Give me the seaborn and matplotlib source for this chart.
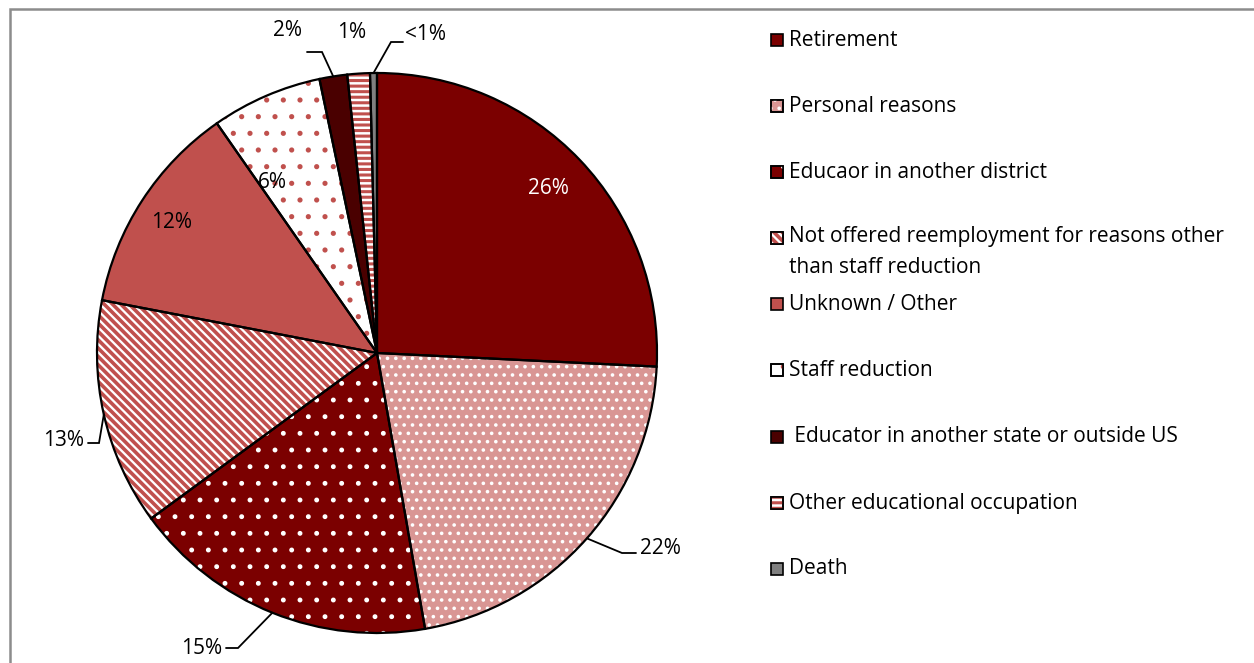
import matplotlib
matplotlib.use("Agg")
import matplotlib.pyplot as plt
import seaborn as sns
import numpy as np
from matplotlib.patches import Rectangle

# ---------------- data ----------------
categories = [
    "Retirement",
    "Personal reasons",
    "Educaor in another district",
    "Not offered reemployment for reasons other\nthan staff reduction",
    "Unknown / Other",
    "Staff reduction",
    " Educator in another state or outside US",
    "Other educational occupation",
    "Death",
]
shares = [25.8, 21.5, 17.7, 13.1, 12.3, 6.4, 1.6, 1.3, 0.4]
pct_labels = ["26%", "22%", "15%", "13%", "12%", "6%", "2%", "1%", "<1%"]

# ---------------- style ----------------
face_colors = ["#7B0000", "#D99694", "#7B0000", "#FFFFFF", "#C0504D",
               "#FFFFFF", "#4A0000", "#FFFFFF", "#808080"]
hatch_colors = [None, "#FFFFFF", "#FFFFFF", "#C0504D", None,
                "#C0504D", None, "#C0504D", None]
hatches = [None, "..", ".", "\\\\\\\\", None, ".", None, "---", None]
hatch_lw = [1, 1.4, 1.1, 2.6, 1, 1.3, 1, 2.2, 1]

sns.set_theme(style="white")
plt.rcParams["font.family"] = ["Open Sans", "DejaVu Sans"]
FS = 15

W, H = 1254, 663
fig = plt.figure(figsize=(W / 100, H / 100), dpi=100)
ax = fig.add_axes([0, 0, 1, 1])

def P(x, y):
    """pixel (top-left origin) -> axes data coords"""
    return x, H - y

cx, cy = P(377, 353)
R = 280

wedges, _ = ax.pie(shares, startangle=90, counterclock=False,
                   center=(cx, cy), radius=R, colors=face_colors,
                   wedgeprops=dict(linewidth=0))
for w, hc, h, lw in zip(wedges, hatch_colors, hatches, hatch_lw):
    if h:
        w.set_hatch(h)
        w.set_edgecolor(hc)
        w.set_linewidth(0)
        if hasattr(w, "set_hatch_linewidth"):
            w.set_hatch_linewidth(lw)
# outlines
outline, _ = ax.pie(shares, startangle=90, counterclock=False,
                    center=(cx, cy), radius=R,
                    wedgeprops=dict(fill=False, edgecolor="black", linewidth=1.6))

ax.set_aspect("auto")
ax.set_xlim(0, W)
ax.set_ylim(0, H)
ax.axis("off")

# frame
ax.add_patch(Rectangle(P(10, 700), 1300, 691, fill=False,
                       edgecolor="#8C8C8C", linewidth=1.8, clip_on=False))

# ---------------- data labels ----------------
label_style = [
    (548, 189, "center", "white", None),
    (640, 549, "left", "black", [(636, 553), (622, 553)]),
    (222, 648, "right", "black", [(226, 648), (238, 648)]),
    (84, 440, "right", "black", [(88, 443), (99, 443)]),
    (172, 222, "center", "black", None),
    (272, 183, "center", "black", None),
    (288, 30, "center", "black", [(307, 52), (322, 52)]),
    (352, 32, "center", "black", None),
    (426, 35, "center", "black", [(403, 42), (391, 42)]),
]
for w, txt, (tx, ty, ha, col, elbow) in zip(wedges, pct_labels, label_style):
    x, y = P(tx, ty)
    ax.text(x, y, txt, ha=ha, va="center", color=col, fontsize=FS)
    if elbow:
        mid = np.deg2rad((w.theta1 + w.theta2) / 2)
        ax_pt = (cx + R * np.cos(mid), cy + R * np.sin(mid))
        pts = [P(*p) for p in elbow] + [ax_pt]
        ax.plot([p[0] for p in pts], [p[1] for p in pts], color="black",
                linewidth=1.3, solid_joinstyle="miter")

# ---------------- legend ----------------
leg_y = [40, 106, 172, 238, 304, 370, 437, 503, 569]
for i, (lab, fc, hc, h, lw, yy) in enumerate(zip(categories, face_colors, hatch_colors,
                                                  hatches, hatch_lw, leg_y)):
    x0, y0 = P(771, yy + 6)
    r = Rectangle((x0, y0), 12, 12, facecolor=fc, edgecolor="black", linewidth=1.2)
    ax.add_patch(r)
    if h:
        r2 = Rectangle((x0, y0), 12, 12, facecolor="none", edgecolor=hc,
                       linewidth=0, hatch=h)
        if hasattr(r2, "set_hatch_linewidth"):
            r2.set_hatch_linewidth(lw)
        ax.add_patch(r2)
        ax.add_patch(Rectangle((x0, y0), 12, 12, fill=False, edgecolor="black",
                               linewidth=1.2))
    if "\n" in lab:
        tx, ty = P(789, yy - 12)
        ax.text(tx, ty, lab, ha="left", va="top", fontsize=FS, color="black",
                linespacing=1.6)
    else:
        tx, ty = P(789, yy)
        ax.text(tx, ty, lab, ha="left", va="center", fontsize=FS, color="black")

fig.savefig("out.png", dpi=100)
